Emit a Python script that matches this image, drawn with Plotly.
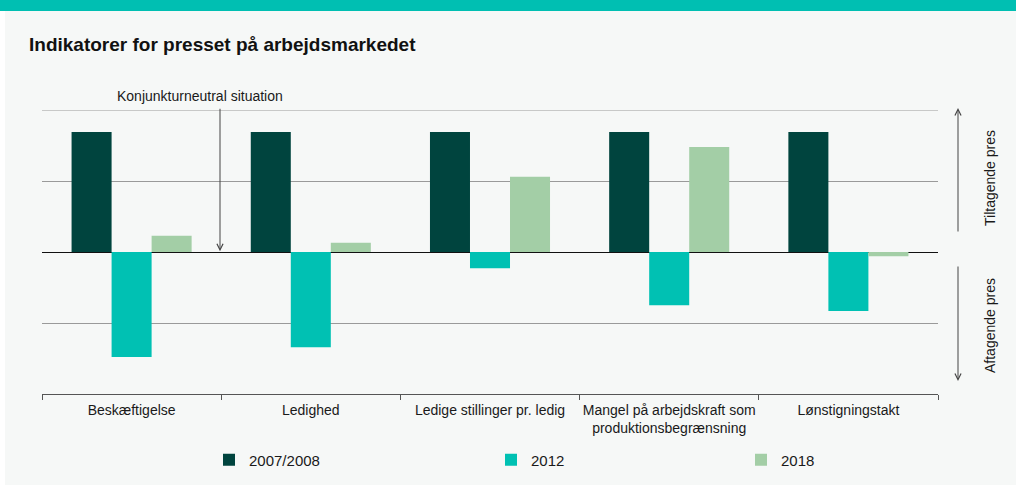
import plotly.graph_objects as go

categories = ["Beskæftigelse", "Ledighed", "Ledige stillinger pr. ledig",
              "Mangel på arbejdskraft som<br>produktionsbegrænsning", "Lønstigningstakt"]
series_names = ["2007/2008", "2012", "2018"]
v_2007 = [1.69, 1.69, 1.69, 1.69, 1.69]
v_2012 = [-1.48, -1.34, -0.23, -0.75, -0.83]
v_2018 = [0.23, 0.13, 1.06, 1.48, -0.06]
colors = ["#00443E", "#00C1B3", "#A3CEA6"]

W, H = 1016, 485
ml, mr, mt, mb = 42, 78, 110, 91
pw, ph = W - ml - mr, H - mt - mb

def px_x(x):
    return (x - ml) / pw

def px_y(y):
    return (H - mb - y) / ph

fig = go.Figure()
legends = ["legend", "legend2", "legend3"]
for name, vals, c, lg in zip(series_names, [v_2007, v_2012, v_2018], colors, legends):
    fig.add_trace(go.Bar(x=categories, y=vals, name=name, marker_color=c,
                         marker_line_width=0, legend=lg))

font = dict(family="Liberation Sans, Arial, sans-serif", size=14, color="#1a1a1a")
bg = "#F6F8F7"

legend_x = [233, 515, 765]
leg_common = dict(orientation="h", bgcolor="rgba(0,0,0,0)", font=dict(size=15),
                  xref="paper", yref="paper", yanchor="middle", xanchor="left",
                  itemwidth=30, tracegroupgap=0)

fig.update_layout(
    width=W, height=H,
    margin=dict(l=ml, r=mr, t=mt, b=mb, autoexpand=False),
    paper_bgcolor="white",
    plot_bgcolor=bg,
    font=font,
    barmode="group",
    bargap=0.33,
    bargroupgap=0,
    showlegend=True,
    legend=dict(x=px_x(legend_x[0] - 24), y=px_y(460), **leg_common),
    legend2=dict(x=px_x(legend_x[1] - 24), y=px_y(460), **leg_common),
    legend3=dict(x=px_x(legend_x[2] - 24), y=px_y(460), **leg_common),
    xaxis=dict(showgrid=False, showline=True, linecolor="#555", linewidth=1,
               ticks="outside", tickson="boundaries", ticklen=5, tickcolor="#555",
               tickangle=0, automargin=False, ticklabelstandoff=3,
               tickfont=dict(size=14)),
    yaxis=dict(range=[-2, 2], dtick=1, showticklabels=False, showgrid=True,
               gridcolor="#9a9a9a", gridwidth=1, zeroline=True, zerolinecolor="#111",
               zerolinewidth=1, fixedrange=True, automargin=False),
    shapes=[
        dict(type="rect", xref="paper", yref="paper", x0=px_x(5), x1=px_x(W),
             y0=px_y(H), y1=px_y(11), fillcolor=bg, line_width=0, layer="below"),
        dict(type="rect", xref="paper", yref="paper", x0=px_x(0), x1=px_x(W),
             y0=px_y(11), y1=px_y(0), fillcolor="#00BFB2", line_width=0, layer="below"),
        dict(type="line", xref="paper", yref="y", x0=0, x1=1, y0=2, y1=2,
             line=dict(color="#9a9a9a", width=1), layer="below"),
    ],
    annotations=[
        dict(text="<b>Indikatorer for presset på arbejdsmarkedet</b>", xref="paper", yref="paper",
             x=px_x(27), y=px_y(45), xanchor="left", yanchor="middle", showarrow=False,
             font=dict(size=19, color="#111")),
        dict(text="Konjunkturneutral situation", xref="paper", yref="paper",
             x=px_x(200), y=px_y(96), xanchor="center", yanchor="middle", showarrow=False,
             font=dict(size=14)),
        dict(text="", xref="paper", yref="y", x=px_x(220), y=0.01, ax=0, ay=-144,
             showarrow=True, arrowhead=5, arrowsize=1.2, arrowwidth=1, arrowcolor="#444"),
        dict(text="", xref="paper", yref="paper", x=px_x(958), y=px_y(108), ax=0, ay=125,
             showarrow=True, arrowhead=5, arrowsize=1.2, arrowwidth=1, arrowcolor="#444"),
        dict(text="", xref="paper", yref="paper", x=px_x(958), y=px_y(381), ax=0, ay=-116,
             showarrow=True, arrowhead=5, arrowsize=1.2, arrowwidth=1, arrowcolor="#444"),
        dict(text="Tiltagende pres", xref="paper", yref="paper", x=px_x(990), y=px_y(178),
             xanchor="center", yanchor="middle",
             textangle=-90, showarrow=False, font=dict(size=14)),
        dict(text="Aftagende pres", xref="paper", yref="paper", x=px_x(990), y=px_y(325),
             xanchor="center", yanchor="middle",
             textangle=-90, showarrow=False, font=dict(size=14)),
    ],
)

fig.write_html("out.html")
